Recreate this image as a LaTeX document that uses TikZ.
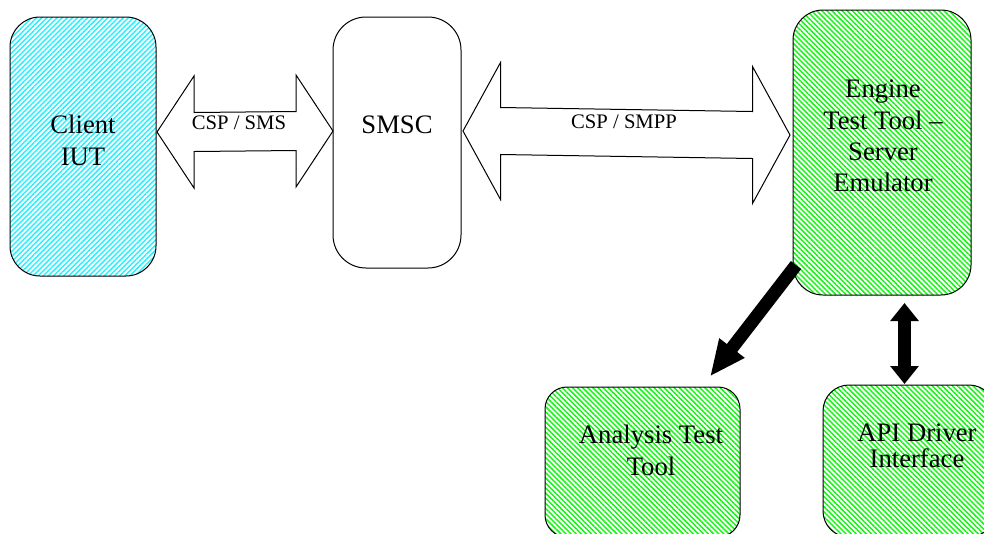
\documentclass[tikz,border=0pt]{standalone}
\usepackage{fontspec}
\setmainfont{Liberation Serif}
\usetikzlibrary{calc,arrows.meta,patterns.meta}
\definecolor{hcyan}{RGB}{40,240,255}
\definecolor{hgreen}{RGB}{20,245,20}
\tikzset{
  box/.style={draw=black, line width=0.75pt, inner sep=0pt, outer sep=0pt},
  cyanbox/.style={box, pattern={Lines[angle=45,distance=2.7pt,line width=1.1pt]}, pattern color=hcyan},
  greenbox/.style={box, pattern={Lines[angle=-45,distance=2.7pt,line width=1.1pt]}, pattern color=hgreen},
  bigtext/.style={font=\fontsize{20}{23.5}\selectfont, align=center, inner sep=0pt},
  smalltext/.style={font=\fontsize{15.5}{18}\selectfont, inner sep=0pt},
  blockarr/.style={draw=black, fill=white, line width=0.75pt, line join=miter},
  thickarr/.style={line width=9.75pt, line cap=butt, black}
}
\newcommand\blockarrow[5]{%
  \draw[blockarr] (#1) -- ++(#5,-#3) -- ++(0,#3-#4) -- ($(#2)+(-#5,-#4)$) -- ++(0,#4-#3)
    -- (#2) -- ++(-#5,#3) -- ++(0,#4-#3) -- ($(#1)+(#5,#4)$) -- ++(0,#3-#4) -- cycle;}
\begin{document}
\begin{tikzpicture}[x=0.75pt,y=-0.75pt]
\useasboundingbox (0,0) rectangle (984,533);
\clip (0,0) rectangle (984,533);
% boxes
\node[cyanbox, rounded corners=22.5pt, minimum width=109.5pt, minimum height=194.25pt] (client) at (83,146.5) {};
\node[box, fill=white, rounded corners=24.75pt, minimum width=96pt, minimum height=188.25pt] (smsc) at (397,142.5) {};
\node[greenbox, rounded corners=22.5pt, minimum width=133.5pt, minimum height=213.75pt] (engine) at (882,152.5) {};
\node[greenbox, rounded corners=16.5pt, minimum width=146.25pt, minimum height=112.5pt] (analysis) at (642.5,462) {};
\node[greenbox, rounded corners=19.5pt, minimum width=129pt, minimum height=114pt] (api) at (909,461) {};
% texts
\node[bigtext, font=\fontsize{20}{24}\selectfont] (tclient) at (83,140) {Client\\IUT};
\node[bigtext] (tsmsc) at (397,125) {SMSC};
\node[bigtext] (tengine) at (883,136) {Engine\\Test Tool –\\Server\\Emulator};
\node[bigtext, font=\fontsize{20}{24}\selectfont] (tanalysis) at (651,450) {Analysis Test\\Tool};
\node[bigtext, font=\fontsize{20}{19.5}\selectfont] (tapi) at (917,446) {API Driver\\Interface};
% block arrows
\path (client.east) ++(1,-14.5) coordinate (a1);
\path (smsc.west) ++(0,-11.5) coordinate (a2);
\path (smsc.east) ++(2,-11.5) coordinate (b1);
\path (engine.west) ++(-3,-17.5) coordinate (b2);
\blockarrow{a1}{a2}{56}{19.5}{37}
\blockarrow{b1}{b2}{68.5}{23.5}{37.5}
\node[smalltext] (lsms) at (239,123) {CSP / SMS};
\node[smalltext] (lsmpp) at (624,122) {CSP / SMPP};
% thick arrows
\path (engine.south west) ++(3,-30) coordinate (c1);
\path (analysis.north) ++(67.5,-10.5) coordinate (c2);
\draw[thickarr, -{Triangle[width=22pt,length=27pt]}] (c1) -- (c2);
\path (engine.south) ++(22.5,8) coordinate (d1);
\path (api.north) ++(-4.5,-1) coordinate (d2);
\draw[thickarr, {Triangle[width=20.7pt,length=13.5pt]}-{Triangle[width=20.7pt,length=13.5pt]}] (d1) -- (d2);
\end{tikzpicture}
\end{document}
